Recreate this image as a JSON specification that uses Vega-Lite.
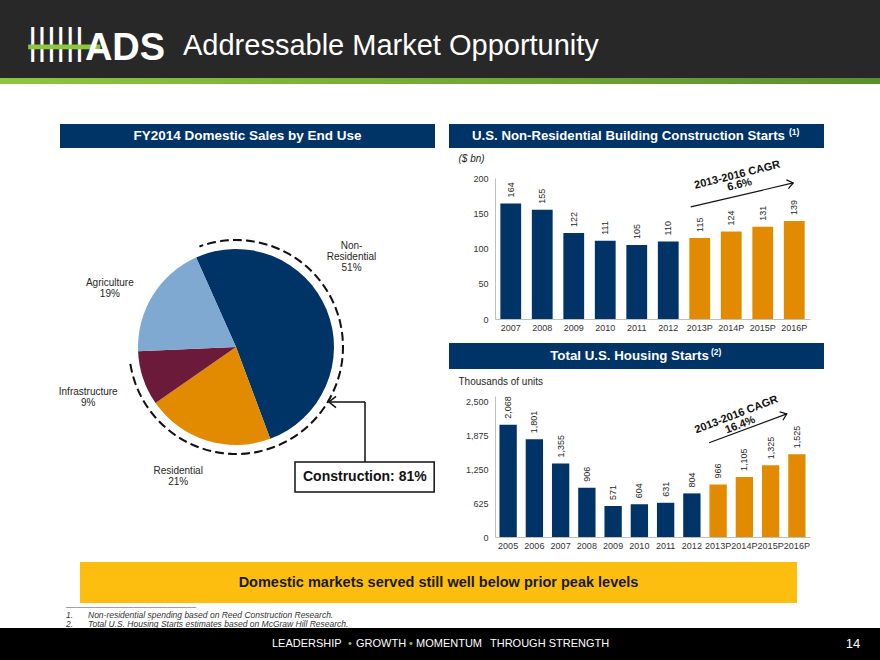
{
  "$schema": "https://vega.github.io/schema/vega-lite/v6.json",
  "background": "white",
  "padding": 0,
  "spacing": 0,
  "config": {
    "view": {"stroke": null},
    "font": "Liberation Sans",
    "axis": {"labelFont": "Liberation Sans", "titleFont": "Liberation Sans", "labelFontSize": 9, "labelColor": "#333333", "domainColor": "#BFBFBF", "ticks": false, "grid": false}
  },
  "datasets": {
    "pie": [
      {"segment": "Non-Residential", "share": 51, "ord": 1, "label": "Non-\nResidential\n51%"},
      {"segment": "Residential", "share": 21, "ord": 2, "label": "Residential\n21%"},
      {"segment": "Infrastructure", "share": 9, "ord": 3, "label": "Infrastructure\n9%"},
      {"segment": "Agriculture", "share": 19, "ord": 4, "label": "Agriculture\n19%"}
    ],
    "nonres": [
      {"year": "2007", "value": 164, "kind": "Actual"},
      {"year": "2008", "value": 155, "kind": "Actual"},
      {"year": "2009", "value": 122, "kind": "Actual"},
      {"year": "2010", "value": 111, "kind": "Actual"},
      {"year": "2011", "value": 105, "kind": "Actual"},
      {"year": "2012", "value": 110, "kind": "Actual"},
      {"year": "2013P", "value": 115, "kind": "Projected"},
      {"year": "2014P", "value": 124, "kind": "Projected"},
      {"year": "2015P", "value": 131, "kind": "Projected"},
      {"year": "2016P", "value": 139, "kind": "Projected"}
    ],
    "housing": [
      {"year": "2005", "value": 2068, "kind": "Actual"},
      {"year": "2006", "value": 1801, "kind": "Actual"},
      {"year": "2007", "value": 1355, "kind": "Actual"},
      {"year": "2008", "value": 906, "kind": "Actual"},
      {"year": "2009", "value": 571, "kind": "Actual"},
      {"year": "2010", "value": 604, "kind": "Actual"},
      {"year": "2011", "value": 631, "kind": "Actual"},
      {"year": "2012", "value": 804, "kind": "Actual"},
      {"year": "2013P", "value": 966, "kind": "Projected"},
      {"year": "2014P", "value": 1105, "kind": "Projected"},
      {"year": "2015P", "value": 1325, "kind": "Projected"},
      {"year": "2016P", "value": 1525, "kind": "Projected"}
    ]
  },
  "vconcat": [
    {
      "width": 880, "height": 78,
      "view": {"fill": "#282828", "stroke": null},
      "data": {"values": [{}]},
      "layer": [
        {"mark": {"type": "text", "text": "||||||", "fontSize": 36, "color": "white", "align": "left", "baseline": "middle", "dx": -412, "dy": 4}},
        {
          "mark": {"type": "rect", "color": "#8DC63F"},
          "encoding": {
            "x": {"datum": 3.2, "type": "quantitative", "scale": {"domain": [0, 100], "nice": false}, "axis": null},
            "x2": {"datum": 11.4},
            "y": {"datum": 57.0, "type": "quantitative", "scale": {"domain": [0, 100], "nice": false, "reverse": true}, "axis": null},
            "y2": {"datum": 63.0}
          }
        },
        {"mark": {"type": "text", "text": "ADS", "fontWeight": "bold", "fontSize": 38, "color": "white", "align": "center", "baseline": "alphabetic", "dx": -315, "dy": 21}},
        {"mark": {"type": "text", "text": "Addressable Market Opportunity", "fontSize": 29, "color": "white", "align": "left", "baseline": "alphabetic", "dx": -257, "dy": 16}}
      ]
    },
    {
      "width": 880, "height": 6,
      "data": {"values": [{}]},
      "mark": {"type": "rect", "color": {"gradient": "linear", "x1": 0, "x2": 1, "y1": 0, "y2": 0, "stops": [{"offset": 0, "color": "#8DC63F"}, {"offset": 1, "color": "#5A8F2E"}]}}
    },
    {"width": 1, "height": 40, "data": {"values": [{}]}, "mark": {"type": "rect", "opacity": 0}},
    {
      "spacing": 0,
      "hconcat": [
        {"width": 58, "height": 1, "data": {"values": [{}]}, "mark": {"type": "rect", "opacity": 0}},
        {
          "spacing": 0,
          "vconcat": [
            {
              "width": 375, "height": 24,
              "view": {"fill": "#003366", "stroke": null},
              "data": {"values": [{}]},
              "mark": {"type": "text", "text": "FY2014 Domestic Sales by End Use", "fontWeight": "bold", "fontSize": 13.5, "color": "white"}
            },
            {"width": 1, "height": 2, "data": {"values": [{}]}, "mark": {"type": "rect", "opacity": 0}},
            {
              "width": 352, "height": 394,
              "layer": [
                {
                  "data": {"name": "pie"},
                  "mark": {"type": "arc", "radius": 98},
                  "encoding": {
                    "theta": {"field": "share", "type": "quantitative", "stack": true, "scale": {"domain": [0, 100], "range": [-0.419, 5.864]}},
                    "order": {"field": "ord", "type": "quantitative"},
                    "color": {"field": "segment", "type": "nominal", "scale": {"domain": ["Non-Residential", "Residential", "Infrastructure", "Agriculture"], "range": ["#003366", "#E38B00", "#6B1A3A", "#7FA9D1"]}, "legend": null}
                  }
                },
                {
                  "data": {"name": "pie"},
                  "transform": [
                    {"stack": "share", "groupby": [], "sort": [{"field": "ord", "order": "ascending"}], "as": ["s0", "s1"]},
                    {"calculate": "(datum.s0 + datum.s1) / 2", "as": "mid"},
                    {"filter": "datum.segment === 'Non-Residential'"}
                  ],
                  "mark": {"type": "text", "radius": 141, "dx": -15, "dy": -48, "fontSize": 10, "lineBreak": "\n", "lineHeight": 11, "color": "#262626"},
                  "encoding": {"theta": {"field": "mid", "type": "quantitative", "stack": null}, "text": {"field": "label"}}
                },
                {
                  "data": {"name": "pie"},
                  "transform": [
                    {"stack": "share", "groupby": [], "sort": [{"field": "ord", "order": "ascending"}], "as": ["s0", "s1"]},
                    {"calculate": "(datum.s0 + datum.s1) / 2", "as": "mid"},
                    {"filter": "datum.segment === 'Residential'"}
                  ],
                  "mark": {"type": "text", "radius": 140, "dx": -16, "dy": -10, "fontSize": 10, "lineBreak": "\n", "lineHeight": 11, "color": "#262626"},
                  "encoding": {"theta": {"field": "mid", "type": "quantitative", "stack": null}, "text": {"field": "label"}}
                },
                {
                  "data": {"name": "pie"},
                  "transform": [
                    {"stack": "share", "groupby": [], "sort": [{"field": "ord", "order": "ascending"}], "as": ["s0", "s1"]},
                    {"calculate": "(datum.s0 + datum.s1) / 2", "as": "mid"},
                    {"filter": "datum.segment === 'Infrastructure'"}
                  ],
                  "mark": {"type": "text", "radius": 157, "dx": 1, "dy": -5, "fontSize": 10, "lineBreak": "\n", "lineHeight": 11, "color": "#262626"},
                  "encoding": {"theta": {"field": "mid", "type": "quantitative", "stack": null}, "text": {"field": "label"}}
                },
                {
                  "data": {"name": "pie"},
                  "transform": [
                    {"stack": "share", "groupby": [], "sort": [{"field": "ord", "order": "ascending"}], "as": ["s0", "s1"]},
                    {"calculate": "(datum.s0 + datum.s1) / 2", "as": "mid"},
                    {"filter": "datum.segment === 'Agriculture'"}
                  ],
                  "mark": {"type": "text", "radius": 139, "dx": -8, "dy": 9, "fontSize": 10, "lineBreak": "\n", "lineHeight": 11, "color": "#262626"},
                  "encoding": {"theta": {"field": "mid", "type": "quantitative", "stack": null}, "text": {"field": "label"}}
                },
                {
                  "data": {"values": [{}]},
                  "mark": {"type": "arc", "theta": -0.349, "theta2": 4.573, "radius": 107, "radius2": 107, "fill": null, "fillOpacity": 0, "stroke": "#111111", "strokeWidth": 2, "strokeDash": [8, 5], "strokeDashOffset": 3.84},
                  "encoding": {}
                },
                {
                  "data": {"values": [{}]},
                  "mark": {"type": "rule", "color": "#111111", "strokeWidth": 1.5},
                  "encoding": {
                    "x": {"datum": 86.65, "type": "quantitative", "scale": {"domain": [0, 100], "nice": false}, "axis": null},
                    "y": {"datum": 63.96, "type": "quantitative", "scale": {"domain": [0, 100], "nice": false, "reverse": true}, "axis": null},
                    "y2": {"datum": 79.19}
                  }
                },
                {
                  "data": {"values": [{}]},
                  "mark": {"type": "rule", "color": "#111111", "strokeWidth": 1.5},
                  "encoding": {
                    "x": {"datum": 76.42, "type": "quantitative", "axis": null},
                    "x2": {"datum": 86.65},
                    "y": {"datum": 63.96, "type": "quantitative", "axis": null}
                  }
                },
                {
                  "data": {"values": [{}]},
                  "mark": {"type": "point", "shape": "M1,-0.8L0,0L1,0.8", "size": 196, "filled": false, "stroke": "#111111", "strokeWidth": 1.5, "opacity": 1},
                  "encoding": {
                    "x": {"datum": 76.42, "type": "quantitative", "axis": null},
                    "y": {"datum": 63.96, "type": "quantitative", "axis": null}
                  }
                },
                {
                  "data": {"values": [{}]},
                  "mark": {"type": "rect", "fill": "white", "stroke": "#111111", "strokeWidth": 1.5},
                  "encoding": {
                    "x": {"datum": 66.76, "type": "quantitative", "axis": null},
                    "x2": {"datum": 106.3},
                    "y": {"datum": 79.19, "type": "quantitative", "axis": null},
                    "y2": {"datum": 86.8}
                  }
                },
                {
                  "data": {"values": [{}]},
                  "mark": {"type": "text", "text": "Construction: 81%", "fontWeight": "bold", "fontSize": 14, "color": "#111111"},
                  "encoding": {
                    "x": {"datum": 86.6, "type": "quantitative", "axis": null},
                    "y": {"datum": 83.0, "type": "quantitative", "axis": null}
                  }
                }
              ]
            }
          ]
        },
        {"width": 14, "height": 1, "data": {"values": [{}]}, "mark": {"type": "rect", "opacity": 0}},
        {
          "spacing": 0,
          "vconcat": [
            {
              "width": 375, "height": 24,
              "view": {"fill": "#003366", "stroke": null},
              "data": {"values": [{}]},
              "layer": [
                {"mark": {"type": "text", "text": "U.S. Non-Residential  Building Construction Starts", "fontWeight": "bold", "fontSize": 13.2, "color": "white", "dx": -8}},
                {"mark": {"type": "text", "text": "(1)", "fontWeight": "bold", "fontSize": 8.5, "color": "white", "align": "left", "dx": 152.5, "dy": -4}}
              ]
            },
            {"width": 1, "height": 5, "data": {"values": [{}]}, "mark": {"type": "rect", "opacity": 0}},
            {
              "spacing": 0,
              "hconcat": [
                {"width": 9, "height": 1, "data": {"values": [{}]}, "mark": {"type": "rect", "opacity": 0}},
                {
                  "width": 315, "height": 141,
                  "data": {"name": "nonres"},
                  "layer": [
                    {
                      "mark": {"type": "bar"},
                      "encoding": {
                        "x": {"field": "year", "type": "ordinal", "sort": null, "scale": {"paddingInner": 0.34, "paddingOuter": 0.17}, "axis": {"title": null, "labelAngle": 0, "labelPadding": 4, "labelOverlap": false}},
                        "y": {"field": "value", "type": "quantitative", "scale": {"domain": [0, 200]}, "axis": {"values": [0, 50, 100, 150, 200], "format": "d", "labelPadding": 7, "title": "($ bn)", "titleAngle": 0, "titleAlign": "left", "titleBaseline": "top", "titleX": -37, "titleY": -25, "titleFontStyle": "italic", "titleFontWeight": "normal", "titleFontSize": 10, "titleColor": "#262626"}},
                        "color": {"field": "kind", "type": "nominal", "scale": {"domain": ["Actual", "Projected"], "range": ["#003366", "#E38B00"]}, "legend": null}
                      }
                    },
                    {
                      "mark": {"type": "text", "angle": 270, "align": "left", "baseline": "middle", "dx": 6, "fontSize": 9, "color": "#262626"},
                      "encoding": {
                        "x": {"field": "year", "type": "ordinal", "sort": null, "axis": {"title": null, "labelAngle": 0, "labelPadding": 4, "labelOverlap": false}},
                        "y": {"field": "value", "type": "quantitative", "axis": {"values": [0, 50, 100, 150, 200], "format": "d", "labelPadding": 7, "title": "($ bn)", "titleAngle": 0, "titleAlign": "left", "titleBaseline": "top", "titleX": -37, "titleY": -25, "titleFontStyle": "italic", "titleFontWeight": "normal", "titleFontSize": 10, "titleColor": "#262626"}},
                        "text": {"field": "value", "type": "quantitative", "format": ","}
                      }
                    },
                    {
                      "data": {"values": [{}]},
                      "mark": {"type": "rule", "color": "#111111", "strokeWidth": 1.2, "xOffset": -9, "x2Offset": -1},
                      "encoding": {
                        "x": {"datum": "2013P", "type": "ordinal", "axis": {"title": null, "labelAngle": 0, "labelPadding": 4, "labelOverlap": false}},
                        "x2": {"datum": "2016P"},
                        "y": {"datum": 159, "type": "quantitative", "axis": {"values": [0, 50, 100, 150, 200], "format": "d", "labelPadding": 7, "title": "($ bn)", "titleAngle": 0, "titleAlign": "left", "titleBaseline": "top", "titleX": -37, "titleY": -25, "titleFontStyle": "italic", "titleFontWeight": "normal", "titleFontSize": 10, "titleColor": "#262626"}},
                        "y2": {"datum": 193}
                      }
                    },
                    {
                      "data": {"values": [{}]},
                      "mark": {"type": "point", "shape": "M-1,-0.75L0,0L-1,0.75", "size": 144, "filled": false, "stroke": "#111111", "strokeWidth": 1.2, "opacity": 1, "angle": 347, "xOffset": -1},
                      "encoding": {
                        "x": {"datum": "2016P", "type": "ordinal", "axis": {"title": null, "labelAngle": 0, "labelPadding": 4, "labelOverlap": false}},
                        "y": {"datum": 193, "type": "quantitative", "axis": {"values": [0, 50, 100, 150, 200], "format": "d", "labelPadding": 7, "title": "($ bn)", "titleAngle": 0, "titleAlign": "left", "titleBaseline": "top", "titleX": -37, "titleY": -25, "titleFontStyle": "italic", "titleFontWeight": "normal", "titleFontSize": 10, "titleColor": "#262626"}}
                      }
                    },
                    {
                      "data": {"values": [{}]},
                      "mark": {"type": "text", "text": "2013-2016 CAGR\n6.6%", "lineBreak": "\n", "lineHeight": 10, "fontWeight": "bold", "fontSize": 11, "color": "#111111", "angle": 346, "xOffset": 6},
                      "encoding": {
                        "x": {"datum": "2014P", "type": "ordinal", "axis": {"title": null, "labelAngle": 0, "labelPadding": 4, "labelOverlap": false}},
                        "y": {"datum": 204, "type": "quantitative", "axis": {"values": [0, 50, 100, 150, 200], "format": "d", "labelPadding": 7, "title": "($ bn)", "titleAngle": 0, "titleAlign": "left", "titleBaseline": "top", "titleX": -37, "titleY": -25, "titleFontStyle": "italic", "titleFontWeight": "normal", "titleFontSize": 10, "titleColor": "#262626"}}
                      }
                    }
                  ]
                }
              ]
            },
            {"width": 1, "height": 11, "data": {"values": [{}]}, "mark": {"type": "rect", "opacity": 0}},
            {
              "width": 375, "height": 26,
              "view": {"fill": "#003366", "stroke": null},
              "data": {"values": [{}]},
              "layer": [
                {"mark": {"type": "text", "text": "Total U.S. Housing Starts", "fontWeight": "bold", "fontSize": 13.3, "color": "white", "dx": -7}},
                {"mark": {"type": "text", "text": "(2)", "fontWeight": "bold", "fontSize": 8.5, "color": "white", "align": "left", "dx": 74.5, "dy": -4}}
              ]
            },
            {"width": 1, "height": 7, "data": {"values": [{}]}, "mark": {"type": "rect", "opacity": 0}},
            {
              "spacing": 0,
              "hconcat": [
                {"width": 9, "height": 1, "data": {"values": [{}]}, "mark": {"type": "rect", "opacity": 0}},
                {
                  "width": 315, "height": 141,
                  "data": {"name": "housing"},
                  "layer": [
                    {
                      "mark": {"type": "bar"},
                      "encoding": {
                        "x": {"field": "year", "type": "ordinal", "sort": null, "scale": {"paddingInner": 0.34, "paddingOuter": 0.17}, "axis": {"title": null, "labelAngle": 0, "labelPadding": 4, "labelOverlap": false}},
                        "y": {"field": "value", "type": "quantitative", "scale": {"domain": [0, 2500]}, "axis": {"values": [0, 625, 1250, 1875, 2500], "format": ",d", "labelPadding": 7, "title": "Thousands of units", "titleAngle": 0, "titleAlign": "left", "titleBaseline": "top", "titleX": -37, "titleY": -20, "titleFontWeight": "normal", "titleFontSize": 10, "titleColor": "#262626"}},
                        "color": {"field": "kind", "type": "nominal", "scale": {"domain": ["Actual", "Projected"], "range": ["#003366", "#E38B00"]}, "legend": null}
                      }
                    },
                    {
                      "mark": {"type": "text", "angle": 270, "align": "left", "baseline": "middle", "dx": 6, "fontSize": 9, "color": "#262626"},
                      "encoding": {
                        "x": {"field": "year", "type": "ordinal", "sort": null, "axis": {"title": null, "labelAngle": 0, "labelPadding": 4, "labelOverlap": false}},
                        "y": {"field": "value", "type": "quantitative", "axis": {"values": [0, 625, 1250, 1875, 2500], "format": ",d", "labelPadding": 7, "title": "Thousands of units", "titleAngle": 0, "titleAlign": "left", "titleBaseline": "top", "titleX": -37, "titleY": -20, "titleFontWeight": "normal", "titleFontSize": 10, "titleColor": "#262626"}},
                        "text": {"field": "value", "type": "quantitative", "format": ","}
                      }
                    },
                    {
                      "data": {"values": [{}]},
                      "mark": {"type": "rule", "color": "#111111", "strokeWidth": 1.2, "xOffset": -9, "x2Offset": -10},
                      "encoding": {
                        "x": {"datum": "2013P", "type": "ordinal", "axis": {"title": null, "labelAngle": 0, "labelPadding": 4, "labelOverlap": false}},
                        "x2": {"datum": "2016P"},
                        "y": {"datum": 1738, "type": "quantitative", "axis": {"values": [0, 625, 1250, 1875, 2500], "format": ",d", "labelPadding": 7, "title": "Thousands of units", "titleAngle": 0, "titleAlign": "left", "titleBaseline": "top", "titleX": -37, "titleY": -20, "titleFontWeight": "normal", "titleFontSize": 10, "titleColor": "#262626"}},
                        "y2": {"datum": 2270}
                      }
                    },
                    {
                      "data": {"values": [{}]},
                      "mark": {"type": "point", "shape": "M-1,-0.75L0,0L-1,0.75", "size": 144, "filled": false, "stroke": "#111111", "strokeWidth": 1.2, "opacity": 1, "angle": 339, "xOffset": -10},
                      "encoding": {
                        "x": {"datum": "2016P", "type": "ordinal", "axis": {"title": null, "labelAngle": 0, "labelPadding": 4, "labelOverlap": false}},
                        "y": {"datum": 2270, "type": "quantitative", "axis": {"values": [0, 625, 1250, 1875, 2500], "format": ",d", "labelPadding": 7, "title": "Thousands of units", "titleAngle": 0, "titleAlign": "left", "titleBaseline": "top", "titleX": -37, "titleY": -20, "titleFontWeight": "normal", "titleFontSize": 10, "titleColor": "#262626"}}
                      }
                    },
                    {
                      "data": {"values": [{}]},
                      "mark": {"type": "text", "text": "2013-2016 CAGR\n16.4%", "lineBreak": "\n", "lineHeight": 11, "fontWeight": "bold", "fontSize": 11, "color": "#111111", "angle": 339, "xOffset": -8},
                      "encoding": {
                        "x": {"datum": "2014P", "type": "ordinal", "axis": {"title": null, "labelAngle": 0, "labelPadding": 4, "labelOverlap": false}},
                        "y": {"datum": 2252, "type": "quantitative", "axis": {"values": [0, 625, 1250, 1875, 2500], "format": ",d", "labelPadding": 7, "title": "Thousands of units", "titleAngle": 0, "titleAlign": "left", "titleBaseline": "top", "titleX": -37, "titleY": -20, "titleFontWeight": "normal", "titleFontSize": 10, "titleColor": "#262626"}}
                      }
                    }
                  ]
                }
              ]
            }
          ]
        }
      ]
    },
    {"width": 1, "height": 12, "data": {"values": [{}]}, "mark": {"type": "rect", "opacity": 0}},
    {
      "spacing": 0,
      "hconcat": [
        {"width": 80, "height": 1, "data": {"values": [{}]}, "mark": {"type": "rect", "opacity": 0}},
        {
          "width": 717, "height": 41,
          "view": {"fill": "#FDBE10", "stroke": null},
          "data": {"values": [{}]},
          "mark": {"type": "text", "text": "Domestic markets served still well below prior peak levels", "fontWeight": "bold", "fontSize": 14.5, "color": "#1A1A1A"}
        }
      ]
    },
    {
      "bounds": "flush",
      "spacing": 0,
      "vconcat": [
        {
          "width": 880, "height": 25,
          "data": {"values": [{}]},
          "layer": [
            {"mark": {"type": "text", "text": "───────────────────────────", "font": "DejaVu Sans", "fontSize": 8, "color": "#808080", "align": "left", "baseline": "middle", "dx": -374, "dy": -8}},
            {"mark": {"type": "text", "text": "1.\n2.", "lineBreak": "\n", "lineHeight": 9, "fontSize": 8.5, "fontStyle": "italic", "color": "#333333", "align": "left", "dx": -374, "dy": -0.5}},
            {"mark": {"type": "text", "text": "Non-residential spending based on Reed Construction Research.\nTotal U.S. Housing Starts estimates based on McGraw Hill Research.", "lineBreak": "\n", "lineHeight": 9, "fontSize": 8.5, "fontStyle": "italic", "color": "#333333", "align": "left", "dx": -352, "dy": -0.5}}
          ]
        },
        {
          "width": 880, "height": 32,
          "view": {"fill": "#000000", "stroke": null},
          "data": {"values": [{}]},
          "layer": [
            {"mark": {"type": "text", "text": "LEADERSHIP", "fontSize": 11, "color": "white", "align": "left", "dx": -168}},
            {"mark": {"type": "text", "text": "•", "fontSize": 11, "color": "#8DC63F", "align": "left", "dx": -92}},
            {"mark": {"type": "text", "text": "GROWTH", "fontSize": 11, "color": "white", "align": "left", "dx": -84}},
            {"mark": {"type": "text", "text": "•", "fontSize": 11, "color": "#8DC63F", "align": "left", "dx": -31}},
            {"mark": {"type": "text", "text": "MOMENTUM", "fontSize": 11, "color": "white", "align": "left", "dx": -24}},
            {"mark": {"type": "text", "text": "THROUGH STRENGTH", "fontSize": 11, "color": "white", "align": "left", "dx": 50}},
            {"mark": {"type": "text", "text": "14", "fontSize": 13, "color": "white", "align": "center", "dx": 413}}
          ]
        }
      ]
    }
  ]
}
